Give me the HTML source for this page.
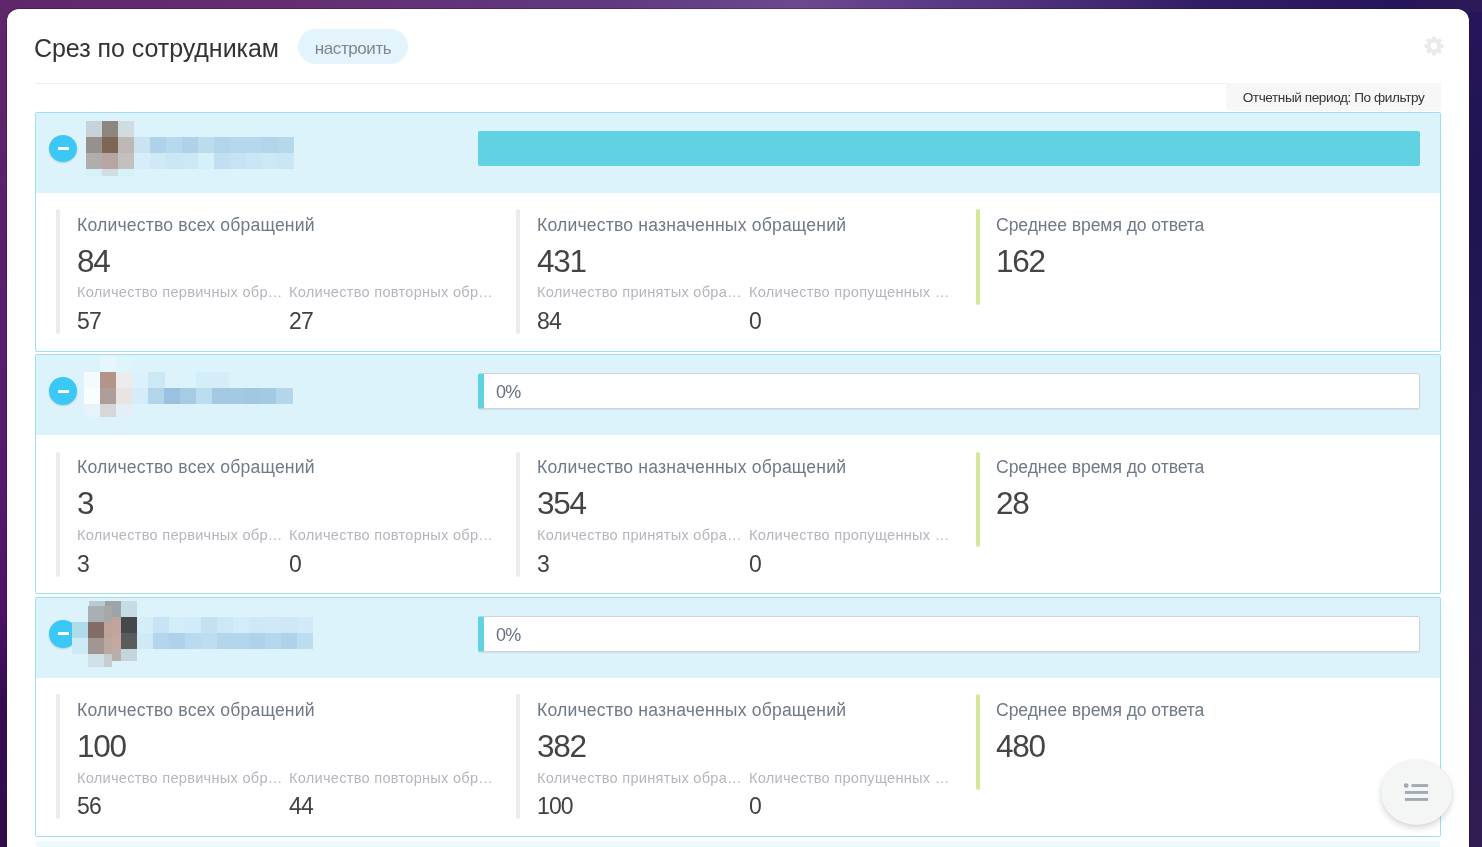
<!DOCTYPE html>
<html lang="ru">
<head>
<meta charset="utf-8">
<title>Срез по сотрудникам</title>
<style>
*{box-sizing:border-box;margin:0;padding:0}
html,body{width:1482px;height:847px;overflow:hidden}
body{font-family:"Liberation Sans",sans-serif;position:relative;background:#3b1a63;color:#333}
.bg{position:absolute;left:0;top:0;width:1482px;height:847px;
  background:linear-gradient(90deg,#5f2769 0,#642f72 300px,#603880 600px,#6c488e 800px,#533481 1000px,#321e66 1200px,#27155a 1400px,#2d1a57 1482px)}
.bgl{position:absolute;left:0;top:12px;width:40px;height:835px;
  background:linear-gradient(180deg,#5f2769 0,#5a216d 190px,#55186f 490px,#4d1369 590px,#370b53 685px,#2e0d4c 835px)}
.bgr{position:absolute;left:1440px;top:12px;width:42px;height:835px;
  background:linear-gradient(180deg,#27155a 0,#1e1450 190px,#271c55 490px,#2f1c52 835px)}
.panel{position:absolute;left:7px;top:9px;width:1462px;height:860px;background:#fff;border-radius:12px 12px 0 0;
  box-shadow:0 0 0 1px rgba(45,0,70,.3)}
.wrap{position:absolute;left:0;top:0;width:1482px;height:847px;overflow:hidden;will-change:transform}
.abs{position:absolute;white-space:nowrap}
.title{left:34px;top:33px;font-size:25px;letter-spacing:-.05px;line-height:30px;color:#333}
.pill{left:298px;top:29px;width:110px;height:35px;border-radius:18px;background:#e3f4fc;color:#7b8794;font-size:17px;letter-spacing:-.42px;line-height:39px;text-align:center}
.hr{left:35px;top:83px;width:1406px;height:1px;background:#eee}
.period{left:1226px;top:83px;width:215px;height:27.5px;background:#f7f7f7;border-radius:0 0 4px 4px;font-size:13.6px;letter-spacing:-.42px;line-height:30px;overflow:hidden;color:#333;text-align:center}
.row{position:absolute;left:35px;width:1406px;height:240px;border:1px solid #9ddff5;border-radius:2px;background:#fff}
.row .head{position:absolute;left:0;top:0;width:1404px;height:80px;background:#dcf3fb}
.minus{position:absolute;left:13px;top:22px;width:28px;height:27px;border-radius:50%;background:#3bc8f6;box-shadow:0 1px 2px rgba(0,0,0,.15)}
.minus b{position:absolute;left:9px;top:12px;width:11px;height:3px;background:#fff;border-radius:.5px}
.bar{position:absolute;left:442px;top:18px;width:942px;height:35px;border-radius:2px}
.bar.full{background:#61d2e2}
.bar.empty{height:36px;background:#fff;border:1px solid #d3d3d3;border-left:6px solid #61d2e2;border-radius:2.5px;box-shadow:0 1px 1px rgba(0,0,0,.08)}
.bar.empty span{position:absolute;left:12px;top:1px;line-height:35px;font-size:18px;letter-spacing:-.8px;color:#66717f}
.vb{position:absolute;width:4px;border-radius:2px;background:#ebebed}
.vb.g{background:#d5e89a}
.lbl{position:absolute;font-size:17.6px;letter-spacing:.18px;line-height:22px;color:#6f7a87;white-space:nowrap}
.big{position:absolute;font-size:31.5px;letter-spacing:-1.3px;line-height:34px;color:#444;white-space:nowrap}
.sub{position:absolute;font-size:14.6px;letter-spacing:.26px;line-height:18px;color:#b2b6bd;white-space:nowrap}
.sm{position:absolute;font-size:23px;letter-spacing:-.9px;line-height:26px;color:#414141;white-space:nowrap}
.px{position:absolute}
</style>
</head>
<body>
<div class="wrap">
<div class="bg"></div><div class="bgl"></div><div class="bgr"></div>
<div class="panel"></div>
<div class="abs title">Срез по сотрудникам</div>
<div class="abs pill">настроить</div>
<div class="abs hr"></div>
<div class="abs period">Отчетный период: По фильтру</div>
<svg class="px" style="left:1423.1px;top:35.0px" width="22" height="22" viewBox="-11 -11 22 22"><g fill="#e9eaec"><rect x="-2.1" y="-9.6" width="4.2" height="5" rx="1.4" transform="rotate(0)"/><rect x="-2.1" y="-9.6" width="4.2" height="5" rx="1.4" transform="rotate(45)"/><rect x="-2.1" y="-9.6" width="4.2" height="5" rx="1.4" transform="rotate(90)"/><rect x="-2.1" y="-9.6" width="4.2" height="5" rx="1.4" transform="rotate(135)"/><rect x="-2.1" y="-9.6" width="4.2" height="5" rx="1.4" transform="rotate(180)"/><rect x="-2.1" y="-9.6" width="4.2" height="5" rx="1.4" transform="rotate(225)"/><rect x="-2.1" y="-9.6" width="4.2" height="5" rx="1.4" transform="rotate(270)"/><rect x="-2.1" y="-9.6" width="4.2" height="5" rx="1.4" transform="rotate(315)"/><path fill-rule="evenodd" d="M0,-7.2A7.2,7.2 0 1 0 0,7.2A7.2,7.2 0 1 0 0,-7.2ZM0,-3.4A3.4,3.4 0 1 1 0,3.4A3.4,3.4 0 1 1 0,-3.4Z"/></g></svg>

<div class="row" style="top:112px">
  <div class="head"><div class="minus" style="top:22px;height:27px"><b style="top:12px"></b></div><div class="bar full"></div><i class="px" style="left:49.6px;top:8px;width:16.4px;height:16.4px;background:#c6d3d9"></i><i class="px" style="left:65.6px;top:8px;width:16.4px;height:16.4px;background:#8f857f"></i><i class="px" style="left:81.6px;top:8px;width:16.4px;height:16.4px;background:#cfdce2"></i><i class="px" style="left:49.6px;top:24px;width:16.4px;height:16.4px;background:#96918b"></i><i class="px" style="left:65.6px;top:24px;width:16.4px;height:16.4px;background:#7e6657"></i><i class="px" style="left:81.6px;top:24px;width:16.4px;height:16.4px;background:#bfb7b4"></i><i class="px" style="left:97.6px;top:24px;width:16.4px;height:16.4px;background:#c9e3f3"></i><i class="px" style="left:113.6px;top:24px;width:16.4px;height:16.4px;background:#aed2ea"></i><i class="px" style="left:129.6px;top:24px;width:16.4px;height:16.4px;background:#b7d9ec"></i><i class="px" style="left:145.6px;top:24px;width:16.4px;height:16.4px;background:#afd2ea"></i><i class="px" style="left:161.6px;top:24px;width:16.4px;height:16.4px;background:#bcdcee"></i><i class="px" style="left:177.6px;top:24px;width:16.4px;height:16.4px;background:#b1d5ea"></i><i class="px" style="left:193.6px;top:24px;width:16.4px;height:16.4px;background:#b5d8ec"></i><i class="px" style="left:209.6px;top:24px;width:16.4px;height:16.4px;background:#b5d8ec"></i><i class="px" style="left:225.6px;top:24px;width:16.4px;height:16.4px;background:#b1d5eb"></i><i class="px" style="left:241.6px;top:24px;width:16.4px;height:16.4px;background:#b5d8eb"></i><i class="px" style="left:49.6px;top:40px;width:16.4px;height:16.4px;background:#afaeab"></i><i class="px" style="left:65.6px;top:40px;width:16.4px;height:16.4px;background:#b7a5a1"></i><i class="px" style="left:81.6px;top:40px;width:16.4px;height:16.4px;background:#c3c0bf"></i><i class="px" style="left:97.6px;top:40px;width:16.4px;height:16.4px;background:#d7eefa"></i><i class="px" style="left:113.6px;top:40px;width:16.4px;height:16.4px;background:#cfe9f5"></i><i class="px" style="left:129.6px;top:40px;width:16.4px;height:16.4px;background:#cbe6f4"></i><i class="px" style="left:145.6px;top:40px;width:16.4px;height:16.4px;background:#cde8f5"></i><i class="px" style="left:161.6px;top:40px;width:16.4px;height:16.4px;background:#d6f0fa"></i><i class="px" style="left:177.6px;top:40px;width:16.4px;height:16.4px;background:#c1dff0"></i><i class="px" style="left:193.6px;top:40px;width:16.4px;height:16.4px;background:#c5e3f4"></i><i class="px" style="left:209.6px;top:40px;width:16.4px;height:16.4px;background:#cae6f4"></i><i class="px" style="left:225.6px;top:40px;width:16.4px;height:16.4px;background:#cde8f5"></i><i class="px" style="left:241.6px;top:40px;width:16.4px;height:16.4px;background:#c8e6f3"></i><i class="px" style="left:49.6px;top:56px;width:16.4px;height:7.1px;background:#d8f0f9"></i><i class="px" style="left:65.6px;top:56px;width:16.4px;height:7.1px;background:#d1dde4"></i><i class="px" style="left:81.6px;top:56px;width:16.4px;height:7.1px;background:#d8f0f9"></i></div>
  <div class="vb" style="left:20px;top:96.2px;height:125px"></div>
  <div class="lbl" style="left:41px;top:101px">Количество всех обращений</div>
  <div class="big" style="left:41px;top:131px">84</div>
  <div class="sub" style="left:41px;top:170px">Количество первичных обр…</div>
  <div class="sm"  style="left:41px;top:195px">57</div>
  <div class="sub" style="left:253px;top:170px">Количество повторных обр…</div>
  <div class="sm"  style="left:253px;top:195px">27</div>
  <div class="vb" style="left:480px;top:96.2px;height:125px"></div>
  <div class="lbl" style="left:501px;top:101px">Количество назначенных обращений</div>
  <div class="big" style="left:501px;top:131px">431</div>
  <div class="sub" style="left:501px;top:170px">Количество принятых обра…</div>
  <div class="sm"  style="left:501px;top:195px">84</div>
  <div class="sub" style="left:713px;top:170px">Количество пропущенных …</div>
  <div class="sm"  style="left:713px;top:195px">0</div>
  <div class="vb g" style="left:940px;top:96.2px;height:95.6px"></div>
  <div class="lbl" style="left:960px;top:101px;letter-spacing:-.08px">Среднее время до ответа</div>
  <div class="big" style="left:960px;top:131px">162</div>
</div>
<div class="row" style="top:354px">
  <div class="head"><div class="minus" style="top:22.1px;height:27.6px"><b style="top:12.9px"></b></div><div class="bar empty"><span>0%</span></div><i class="px" style="left:64.3px;top:0.7px;width:16.4px;height:16.4px;background:#e6f6fd"></i><i class="px" style="left:80.3px;top:0.7px;width:16.4px;height:16.4px;background:#def5fd"></i><i class="px" style="left:48.3px;top:16.7px;width:16.4px;height:16.4px;background:#f4fbfe"></i><i class="px" style="left:64.3px;top:16.7px;width:16.4px;height:16.4px;background:#b39588"></i><i class="px" style="left:80.3px;top:16.7px;width:16.4px;height:16.4px;background:#ececec"></i><i class="px" style="left:96.3px;top:16.7px;width:16.4px;height:16.4px;background:#dbf1fc"></i><i class="px" style="left:112.3px;top:16.7px;width:16.4px;height:16.4px;background:#cbe8f4"></i><i class="px" style="left:160.3px;top:16.7px;width:16.4px;height:16.4px;background:#d3edf9"></i><i class="px" style="left:176.3px;top:16.7px;width:16.4px;height:16.4px;background:#d5ecf9"></i><i class="px" style="left:48.3px;top:32.7px;width:16.4px;height:16.4px;background:#fafdfd"></i><i class="px" style="left:64.3px;top:32.7px;width:16.4px;height:16.4px;background:#ae9e9a"></i><i class="px" style="left:80.3px;top:32.7px;width:16.4px;height:16.4px;background:#e8e4e1"></i><i class="px" style="left:96.3px;top:32.7px;width:16.4px;height:16.4px;background:#d6ecf9"></i><i class="px" style="left:112.3px;top:32.7px;width:16.4px;height:16.4px;background:#b2d5ea"></i><i class="px" style="left:128.3px;top:32.7px;width:16.4px;height:16.4px;background:#9ac1e2"></i><i class="px" style="left:144.3px;top:32.7px;width:16.4px;height:16.4px;background:#a5cbe5"></i><i class="px" style="left:160.3px;top:32.7px;width:16.4px;height:16.4px;background:#bcdcf0"></i><i class="px" style="left:176.3px;top:32.7px;width:16.4px;height:16.4px;background:#a3c9e4"></i><i class="px" style="left:192.3px;top:32.7px;width:16.4px;height:16.4px;background:#a4c9e4"></i><i class="px" style="left:208.3px;top:32.7px;width:16.4px;height:16.4px;background:#a1c7e3"></i><i class="px" style="left:224.3px;top:32.7px;width:16.4px;height:16.4px;background:#a3cae5"></i><i class="px" style="left:240.3px;top:32.7px;width:16.4px;height:16.4px;background:#b4d6eb"></i><i class="px" style="left:48.3px;top:48.7px;width:16.4px;height:13.0px;background:#e6f4f9"></i><i class="px" style="left:64.3px;top:48.7px;width:16.4px;height:13.0px;background:#d5d7d9"></i><i class="px" style="left:80.3px;top:48.7px;width:16.4px;height:13.0px;background:#e3eff4"></i></div>
  <div class="vb" style="left:20px;top:96.8px;height:125px"></div>
  <div class="lbl" style="left:41px;top:101px">Количество всех обращений</div>
  <div class="big" style="left:41px;top:131px">3</div>
  <div class="sub" style="left:41px;top:171px">Количество первичных обр…</div>
  <div class="sm"  style="left:41px;top:196px">3</div>
  <div class="sub" style="left:253px;top:171px">Количество повторных обр…</div>
  <div class="sm"  style="left:253px;top:196px">0</div>
  <div class="vb" style="left:480px;top:96.8px;height:125px"></div>
  <div class="lbl" style="left:501px;top:101px">Количество назначенных обращений</div>
  <div class="big" style="left:501px;top:131px">354</div>
  <div class="sub" style="left:501px;top:171px">Количество принятых обра…</div>
  <div class="sm"  style="left:501px;top:196px">3</div>
  <div class="sub" style="left:713px;top:171px">Количество пропущенных …</div>
  <div class="sm"  style="left:713px;top:196px">0</div>
  <div class="vb g" style="left:940px;top:96.8px;height:95.6px"></div>
  <div class="lbl" style="left:960px;top:101px;letter-spacing:-.08px">Среднее время до ответа</div>
  <div class="big" style="left:960px;top:131px">28</div>
</div>
<div class="row" style="top:597px">
  <div class="head"><div class="minus" style="top:21.8px;height:28.4px"><b style="top:12.3px"></b></div><div class="bar empty"><span>0%</span></div><i class="px" style="left:53px;top:3px;width:16.4px;height:16.4px;background:#b9cbd2"></i><i class="px" style="left:69px;top:3px;width:16.4px;height:16.4px;background:#9da3a6"></i><i class="px" style="left:85px;top:3px;width:16.4px;height:16.4px;background:#c6dce3"></i><i class="px" style="left:69px;top:19px;width:16.4px;height:16.4px;background:#bfa59d"></i><i class="px" style="left:85px;top:19px;width:16.4px;height:16.4px;background:#47484a"></i><i class="px" style="left:69px;top:35px;width:16.4px;height:16.4px;background:#c4a79e"></i><i class="px" style="left:85px;top:35px;width:16.4px;height:16.4px;background:#5a5c5b"></i><i class="px" style="left:69px;top:51px;width:16.4px;height:12.2px;background:#b8aeac"></i><i class="px" style="left:85px;top:51px;width:16.4px;height:12.2px;background:#c3d6dd"></i><i class="px" style="left:101px;top:19px;width:16.4px;height:16.4px;background:#d5edf9"></i><i class="px" style="left:117px;top:19px;width:16.4px;height:16.4px;background:#c6e4f5"></i><i class="px" style="left:133px;top:19px;width:16.4px;height:16.4px;background:#d4eef9"></i><i class="px" style="left:149px;top:19px;width:16.4px;height:16.4px;background:#d2ebf8"></i><i class="px" style="left:165px;top:19px;width:16.4px;height:16.4px;background:#c4e1f2"></i><i class="px" style="left:181px;top:19px;width:16.4px;height:16.4px;background:#cde8f5"></i><i class="px" style="left:197px;top:19px;width:16.4px;height:16.4px;background:#d2edf8"></i><i class="px" style="left:213px;top:19px;width:16.4px;height:16.4px;background:#cfe8f5"></i><i class="px" style="left:229px;top:19px;width:16.4px;height:16.4px;background:#d0e9f5"></i><i class="px" style="left:245px;top:19px;width:16.4px;height:16.4px;background:#cde7f4"></i><i class="px" style="left:261px;top:19px;width:16.4px;height:16.4px;background:#d2eaf7"></i><i class="px" style="left:101px;top:35px;width:16.4px;height:16.4px;background:#d0e9f6"></i><i class="px" style="left:117px;top:35px;width:16.4px;height:16.4px;background:#b3d6ec"></i><i class="px" style="left:133px;top:35px;width:16.4px;height:16.4px;background:#aed2ea"></i><i class="px" style="left:149px;top:35px;width:16.4px;height:16.4px;background:#b9daee"></i><i class="px" style="left:165px;top:35px;width:16.4px;height:16.4px;background:#bfddf0"></i><i class="px" style="left:181px;top:35px;width:16.4px;height:16.4px;background:#b3d6eb"></i><i class="px" style="left:197px;top:35px;width:16.4px;height:16.4px;background:#b2d6eb"></i><i class="px" style="left:213px;top:35px;width:16.4px;height:16.4px;background:#add2ea"></i><i class="px" style="left:229px;top:35px;width:16.4px;height:16.4px;background:#b5d8ec"></i><i class="px" style="left:245px;top:35px;width:16.4px;height:16.4px;background:#aed2ea"></i><i class="px" style="left:261px;top:35px;width:16.4px;height:16.4px;background:#bcdcf0"></i><i class="px" style="left:52.2px;top:7.7px;width:16.2px;height:16.2px;background:#a9b0b3"></i><i class="px" style="left:68px;top:7.7px;width:8.4px;height:16.2px;background:#a8a8a8"></i><i class="px" style="left:36.1px;top:23.5px;width:16.5px;height:16.5px;background:#b0dce9"></i><i class="px" style="left:52.2px;top:23.5px;width:16.2px;height:16.5px;background:#826d66"></i><i class="px" style="left:68px;top:23.5px;width:8.4px;height:16.5px;background:#bfa299"></i><i class="px" style="left:36.1px;top:39.6px;width:16.5px;height:16.4px;background:#ccebf6"></i><i class="px" style="left:52.2px;top:39.6px;width:16.2px;height:16.4px;background:#a19694"></i><i class="px" style="left:68px;top:39.6px;width:8.4px;height:16.4px;background:#bba8a1"></i><i class="px" style="left:52.2px;top:55.6px;width:16.2px;height:13.4px;background:#cfe0e6"></i><i class="px" style="left:68px;top:55.6px;width:8.4px;height:13.4px;background:#c8cdd1"></i></div>
  <div class="vb" style="left:20px;top:96.2px;height:125px"></div>
  <div class="lbl" style="left:41px;top:101px">Количество всех обращений</div>
  <div class="big" style="left:41px;top:131px">100</div>
  <div class="sub" style="left:41px;top:171px">Количество первичных обр…</div>
  <div class="sm"  style="left:41px;top:195px">56</div>
  <div class="sub" style="left:253px;top:171px">Количество повторных обр…</div>
  <div class="sm"  style="left:253px;top:195px">44</div>
  <div class="vb" style="left:480px;top:96.2px;height:125px"></div>
  <div class="lbl" style="left:501px;top:101px">Количество назначенных обращений</div>
  <div class="big" style="left:501px;top:131px">382</div>
  <div class="sub" style="left:501px;top:171px">Количество принятых обра…</div>
  <div class="sm"  style="left:501px;top:195px">100</div>
  <div class="sub" style="left:713px;top:171px">Количество пропущенных …</div>
  <div class="sm"  style="left:713px;top:195px">0</div>
  <div class="vb g" style="left:940px;top:96.2px;height:95.6px"></div>
  <div class="lbl" style="left:960px;top:101px;letter-spacing:-.08px">Среднее время до ответа</div>
  <div class="big" style="left:960px;top:131px">480</div>
</div>
<div class="abs" style="left:36px;top:841px;width:1404px;height:10px;background:#eef9fd"></div>
<div class="px" style="left:1380.8px;top:760.4px;width:71px;height:64.6px;border-radius:50%;background:#f4f5f5;box-shadow:0 3px 6px rgba(0,0,0,.16),0 0 2px rgba(0,0,0,.06)"></div><svg class="px" style="left:1400px;top:780px" width="32" height="24" viewBox="1400 780 32 24"><g fill="#a4aab2"><circle cx="1406.2" cy="785.6" r="2.4"/><rect x="1411.5" y="784.1" width="16.6" height="2.9"/><rect x="1404.9" y="791" width="23.2" height="2.9"/><rect x="1404.9" y="798" width="23.2" height="2.9"/></g></svg>
</div>
</body>
</html>
